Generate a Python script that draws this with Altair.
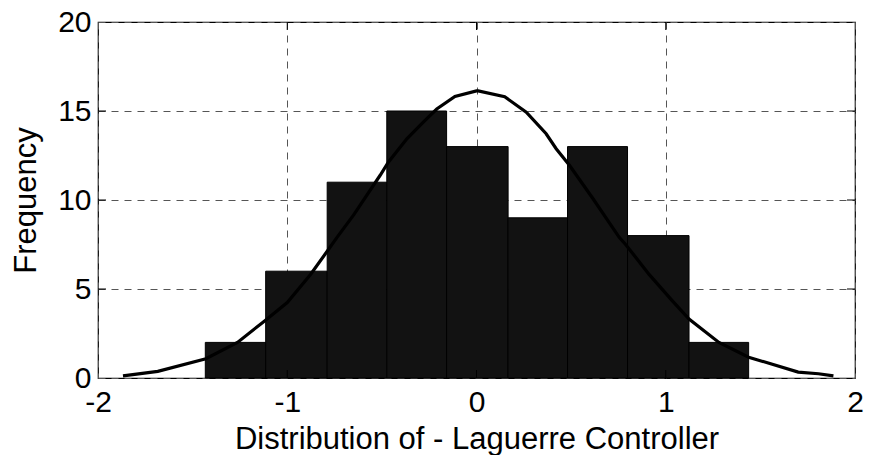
import altair as alt
import pandas as pd

# Histogram bins (edges) and counts
bin_left = [-1.433, -1.114, -0.789, -0.474, -0.158, 0.167, 0.481, 0.798, 1.123]
bin_right = [-1.114, -0.789, -0.474, -0.158, 0.167, 0.481, 0.798, 1.123, 1.438]
counts = [2, 6, 11, 15, 13, 9, 13, 8, 2]

# Fitted curve points
curve_x = [-1.868, -1.684, -1.43, -1.263, -1.123, -1.0, -0.877, -0.789, -0.737, -0.649,
           -0.509, -0.465, -0.368, -0.281, -0.21, -0.114, 0.0, 0.009, 0.149, 0.263,
           0.368, 0.421, 0.491, 0.614, 0.754, 0.789, 0.912, 1.035, 1.123, 1.281,
           1.438, 1.70, 1.807, 1.886]
curve_y = [0.12, 0.37, 1.08, 2.0, 3.18, 4.24, 5.82, 7.12, 7.9, 9.16,
           11.39, 12.14, 13.44, 14.37, 15.11, 15.82, 16.13, 16.13, 15.8, 14.93,
           13.72, 12.88, 11.95, 10.1, 7.9, 7.49, 5.82, 4.33, 3.31, 2.0,
           1.17, 0.33, 0.24, 0.12]

x_ticks = [-2, -1, 0, 1, 2]
y_ticks = [0, 5, 10, 15, 20]

W, H = 757, 356
FONT = "Liberation Sans"
TICK = 8

bars_df = pd.DataFrame({"x0": bin_left, "x1": bin_right, "n": counts})
curve_df = pd.DataFrame({"x": curve_x, "y": curve_y})
xt_df = pd.DataFrame({"v": x_ticks[1:-1]})
yt_df = pd.DataFrame({"v": y_ticks[1:-1]})

xscale = alt.Scale(domain=[-2, 2], nice=False, zero=False)
yscale = alt.Scale(domain=[0, 20], nice=False)

xaxis = alt.Axis(values=x_ticks, title="Distribution of - Laguerre Controller",
                 labelExpr="'' + datum.value",
                 grid=True, gridDash=[7, 6], gridColor="#555555", gridWidth=1,
                 ticks=False, domain=False, labelFont=FONT, labelFontSize=30,
                 labelColor="black", labelPadding=9, labelFlush=False,
                 titleFont=FONT, titleFontSize=31, titleFontWeight="normal",
                 titleColor="black", titleBaseline="alphabetic", titleY=70)
yaxis = alt.Axis(values=y_ticks, title="Frequency",
                 labelExpr="'' + datum.value",
                 grid=True, gridDash=[7, 6], gridColor="#555555", gridWidth=1,
                 ticks=False, domain=False, labelFont=FONT, labelFontSize=30,
                 labelColor="black", labelPadding=7, labelFlush=False,
                 titleFont=FONT, titleFontSize=31, titleFontWeight="normal",
                 titleColor="black", titleBaseline="alphabetic", titleAngle=270,
                 titleX=-63)

bars = alt.Chart(bars_df).mark_bar(color="#121212", stroke="#000000", strokeWidth=1).encode(
    x=alt.X("x0:Q", scale=xscale, axis=xaxis),
    x2="x1:Q",
    y=alt.Y("n:Q", scale=yscale, axis=yaxis),
    y2=alt.datum(0),
)

curve = alt.Chart(curve_df).mark_line(color="black", strokeWidth=3.2).encode(
    x=alt.X("x:Q", scale=xscale),
    y=alt.Y("y:Q", scale=yscale),
)

tick_bottom = alt.Chart(xt_df).mark_rule(color="black", strokeWidth=1).encode(
    x=alt.X("v:Q", scale=xscale), y=alt.value(H), y2=alt.value(H - TICK))
tick_top = alt.Chart(xt_df).mark_rule(color="black", strokeWidth=1).encode(
    x=alt.X("v:Q", scale=xscale), y=alt.value(0), y2=alt.value(TICK))
tick_left = alt.Chart(yt_df).mark_rule(color="black", strokeWidth=1).encode(
    y=alt.Y("v:Q", scale=yscale), x=alt.value(0), x2=alt.value(TICK))
tick_right = alt.Chart(yt_df).mark_rule(color="black", strokeWidth=1).encode(
    y=alt.Y("v:Q", scale=yscale), x=alt.value(W), x2=alt.value(W - TICK))

chart = alt.layer(bars, curve, tick_bottom, tick_top, tick_left, tick_right).properties(
    width=W, height=H,
    autosize=alt.AutoSizeParams(type="none"),
    padding={"left": 90, "top": 14, "right": 9, "bottom": 77},
    background="white",
).configure_view(stroke="black", strokeWidth=1.2)

chart.save("out.html", embed_options={"renderer": "svg", "actions": False})
